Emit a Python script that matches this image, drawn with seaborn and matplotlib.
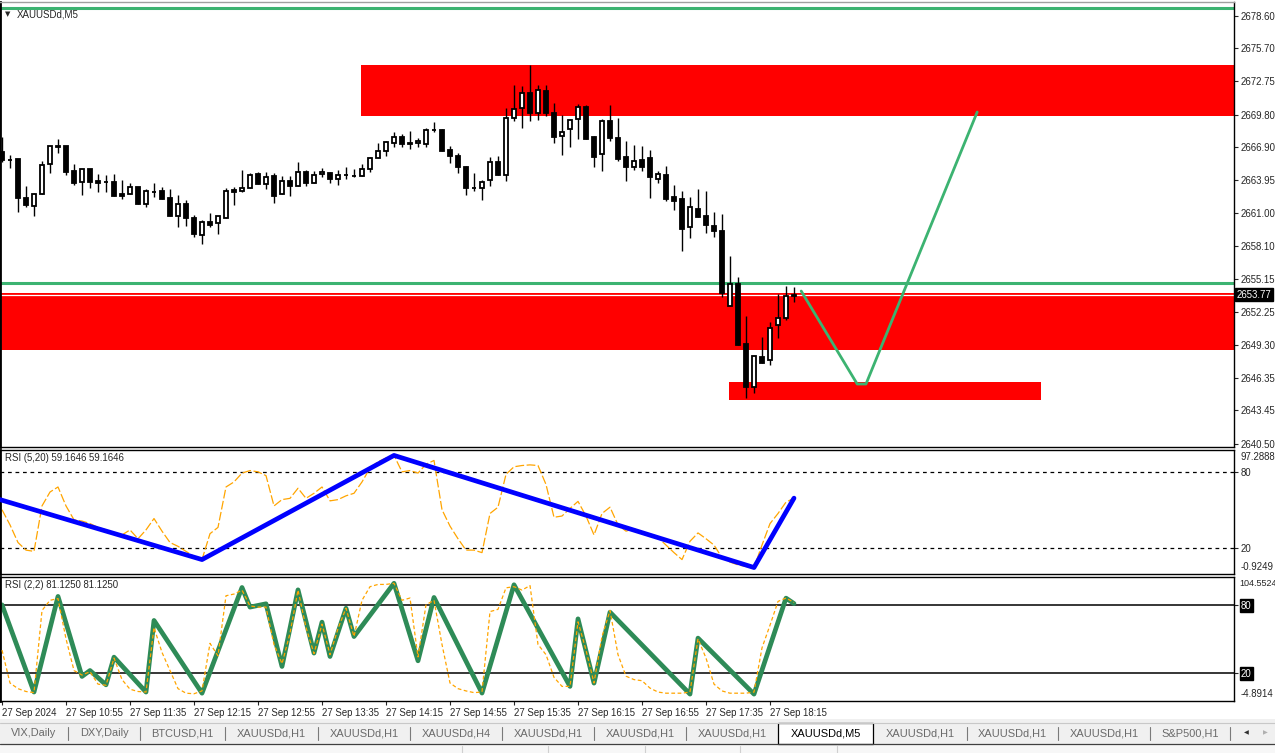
import numpy as np
import pandas as pd
import matplotlib
matplotlib.use("Agg")
import matplotlib.pyplot as plt
from matplotlib.patches import Rectangle
import seaborn as sns

sns.set_style("white")
plt.rcParams['font.family'] = ['Liberation Sans', 'DejaVu Sans']

# ---- data --------------------------------------------------------------
symbol = "XAUUSDd,M5"

opens = [2666.49, 2665.78, 2665.84, 2662.33, 2661.68, 2662.75, 2665.36, 2666.96, 2666.99, 2664.77,
         2663.76, 2664.95, 2663.88, 2663.78, 2663.76, 2662.69, 2662.72, 2663.31, 2661.86, 2662.94,
         2662.99, 2662.36, 2660.79, 2661.83, 2660.61, 2659.10, 2660.20, 2660.11, 2660.61, 2663.08,
         2663.02, 2663.22, 2664.47, 2663.64, 2664.29, 2662.72, 2663.85, 2663.46, 2664.65, 2663.67,
         2664.47, 2664.56, 2664.03, 2664.38, 2664.29, 2664.29, 2664.92, 2665.90, 2666.52, 2667.23,
         2667.77, 2667.23, 2667.23, 2667.15, 2668.39, 2668.39, 2666.61, 2666.08, 2665.10, 2663.29,
         2663.23, 2663.94, 2665.54, 2664.38, 2669.46, 2670.35, 2671.69, 2669.91, 2671.86, 2669.91,
         2667.85, 2668.48, 2669.37, 2670.44, 2667.77, 2666.25, 2669.19, 2667.68, 2665.99, 2665.10,
         2665.72, 2665.90, 2664.03, 2664.41, 2662.43, 2662.25, 2659.75, 2661.36, 2660.73, 2659.87,
         2659.40, 2652.78, 2654.68, 2649.37, 2645.57, 2648.18, 2647.91, 2651.03, 2651.65, 2653.64]
highs = [2667.76, 2666.19, 2665.84, 2663.43, 2662.84, 2665.66, 2666.99, 2667.59, 2666.99, 2665.39,
         2664.92, 2664.95, 2664.47, 2664.41, 2664.47, 2663.97, 2663.73, 2663.31, 2663.17, 2663.67,
         2663.37, 2663.17, 2662.63, 2662.18, 2660.85, 2660.40, 2661.00, 2660.76, 2663.22, 2663.31,
         2664.86, 2664.56, 2664.65, 2664.65, 2664.56, 2664.35, 2664.35, 2665.54, 2664.86, 2664.77,
         2665.04, 2664.65, 2664.86, 2665.10, 2664.92, 2665.36, 2665.99, 2667.23, 2667.44, 2668.24,
         2668.03, 2668.33, 2667.68, 2668.57, 2669.14, 2668.48, 2666.97, 2666.34, 2665.19, 2664.56,
         2663.94, 2665.99, 2666.08, 2670.35, 2672.40, 2672.31, 2674.21, 2672.40, 2672.40, 2670.80,
         2669.73, 2669.37, 2670.71, 2670.62, 2667.86, 2669.37, 2670.62, 2669.46, 2667.41, 2667.06,
         2666.97, 2666.64, 2664.80, 2665.20, 2663.52, 2662.99, 2662.43, 2663.17, 2662.99, 2661.12,
         2660.94, 2657.20, 2655.33, 2651.86, 2648.27, 2649.96, 2651.30, 2653.79, 2654.50, 2654.41]
lows = [2665.60, 2665.00, 2661.15, 2661.53, 2660.79, 2662.75, 2664.62, 2666.40, 2664.41, 2663.52,
        2662.63, 2663.22, 2662.93, 2662.93, 2662.57, 2662.24, 2662.72, 2661.86, 2661.59, 2662.42,
        2662.24, 2660.79, 2659.81, 2659.90, 2658.92, 2658.24, 2659.81, 2659.16, 2660.55, 2661.74,
        2662.93, 2663.22, 2663.58, 2663.19, 2661.95, 2662.72, 2662.57, 2663.46, 2663.47, 2663.67,
        2664.21, 2663.73, 2663.55, 2664.03, 2664.21, 2664.29, 2664.71, 2665.90, 2666.14, 2666.94,
        2666.88, 2666.70, 2666.88, 2666.88, 2668.21, 2666.52, 2665.45, 2664.56, 2662.60, 2662.96,
        2662.16, 2663.40, 2664.38, 2663.85, 2669.19, 2668.57, 2669.19, 2669.28, 2669.64, 2667.23,
        2666.22, 2666.88, 2667.59, 2667.59, 2665.16, 2664.74, 2667.41, 2665.63, 2663.85, 2664.83,
        2664.74, 2662.34, 2663.73, 2662.13, 2661.30, 2657.68, 2658.83, 2660.65, 2659.22, 2658.92,
        2653.58, 2652.78, 2649.28, 2644.59, 2644.97, 2647.64, 2647.53, 2649.87, 2651.47, 2653.08]
closes = [2665.75, 2665.72, 2662.33, 2661.74, 2662.69, 2665.27, 2666.99, 2666.93, 2664.71, 2663.73,
          2664.92, 2663.82, 2663.67, 2663.76, 2662.57, 2662.57, 2663.31, 2661.86, 2662.96, 2662.92,
          2662.28, 2660.79, 2661.80, 2660.61, 2659.16, 2660.20, 2659.96, 2660.76, 2662.99, 2662.93,
          2663.22, 2664.38, 2663.64, 2664.20, 2662.57, 2663.85, 2663.46, 2664.65, 2663.73, 2664.38,
          2664.65, 2664.03, 2664.38, 2664.40, 2664.30, 2664.92, 2665.90, 2666.52, 2667.32, 2667.77,
          2667.15, 2667.15, 2667.41, 2668.39, 2668.41, 2666.52, 2666.08, 2665.10, 2663.23, 2663.26,
          2663.76, 2665.54, 2664.38, 2669.46, 2670.26, 2671.69, 2669.91, 2671.95, 2669.91, 2667.77,
          2668.21, 2669.28, 2670.44, 2667.59, 2665.99, 2669.19, 2667.68, 2665.87, 2665.10, 2665.63,
          2665.10, 2664.27, 2664.50, 2662.28, 2662.13, 2659.64, 2661.54, 2660.65, 2659.93, 2659.46,
          2653.88, 2654.68, 2649.28, 2645.57, 2648.27, 2647.70, 2650.76, 2651.65, 2653.61, 2653.77]

price_ticks = [2678.60, 2675.70, 2672.75, 2669.80, 2666.90, 2663.95, 2661.00,
               2658.10, 2655.15, 2652.25, 2649.30, 2646.35, 2643.45, 2640.50]
last_price = 2653.77

# supply / demand rectangles: start bar, end bar, low, high
zone_start = [44.9, -1.0, 90.9]
zone_end = [160.0, 160.0, 129.9]
zone_low = [2669.67, 2648.83, 2644.37]
zone_high = [2674.21, 2653.89, 2645.99]

green_levels = [2679.33, 2654.80]
path_x = [99.9, 106.9, 108.0, 121.9]
path_y = [2654.08, 2645.80, 2645.80, 2670.02]

rsi_slow = [50, 38, 24, 18, 17, 53, 64, 68, 53, 42, 41, 39, 36, 34, 31, 30, 34, 27, 34, 43,
            33, 24, 21, 17, 13, 10.5, 31, 36, 68, 72, 79, 81, 80, 77, 53, 58, 59, 67, 59, 63,
            68, 57, 58, 61, 63, 72, 83, 88, 91, 93, 80, 81, 79, 86, 89, 50, 37, 27, 18, 18,
            16, 47, 52, 78, 84, 85, 85.5, 85, 70, 44, 45, 51, 56.6, 45, 30, 47, 52, 38, 33, 35,
            31, 29, 28, 22, 16, 10.5, 25, 31.6, 27, 22, 12, 8.5, 6.3, 5, 4.2, 22, 39, 47, 56, 59.1646]
slow_piv_x = [-1, 25, 49, 94, 99]
slow_piv_y = [59.4, 10.5, 93.0, 4.2, 59.1646]
slow_range = (-0.9249, 97.2888)

rsi_fast = [40, 11, 6, 3.5, 2.5, 75, 84, 85.5, 50, 22, 18, 21, 10, 9, 33, 14, 5.5, 3.5, 3, 60,
            38, 22, 6, 2, 1.5, 4, 46, 35, 88, 89.5, 93, 79, 78, 78, 45, 28, 55, 93, 60, 37,
            63, 36, 59, 77, 52, 84, 96, 98, 98, 99, 84, 86, 34, 80, 84, 45, 11, 6, 4, 2.5,
            3, 74, 76, 95, 96, 93, 97, 45, 36, 16, 8, 8, 65, 40, 11, 52, 75, 36, 17, 14,
            13, 6.5, 3, 2, 2, 2, 3, 50, 33, 10, 4, 2, 2, 2, 3, 42, 62, 83, 86, 82]
fast_piv_x = [0, 4, 7, 10, 11, 13, 14, 18, 19, 25, 30, 31, 33, 35, 37, 39, 40, 41, 43, 44,
              49, 52, 54, 60, 64, 71, 72, 74, 76, 86, 87, 94, 98, 99]
fast_piv_y = [80, 3, 87.4, 16.8, 22, 9.4, 33.8, 3, 66.2, 2, 95.3, 78, 80.9, 25.6, 93.2, 37.4,
              64.7, 34.4, 77, 52, 99, 30.6, 86.5, 2.1, 97.7, 8, 67.6, 10.9, 73.5, 1.2, 50.6,
              1.2, 85.9, 81.125]
fast_range = (-4.8914, 104.5524)

time_ticks = [0, 8, 16, 24, 32, 40, 48, 56, 64, 72, 80, 88, 96]
time_labels = ["27 Sep 2024", "27 Sep 10:55", "27 Sep 11:35", "27 Sep 12:15", "27 Sep 12:55",
               "27 Sep 13:35", "27 Sep 14:15", "27 Sep 14:55", "27 Sep 15:35", "27 Sep 16:15",
               "27 Sep 16:55", "27 Sep 17:35", "27 Sep 18:15"]

tabs = ["VIX,Daily", "DXY,Daily", "BTCUSD,H1", "XAUUSDd,H1", "XAUUSDd,H1", "XAUUSDd,H4",
        "XAUUSDd,H1", "XAUUSDd,H1", "XAUUSDd,H1", "XAUUSDd,M5", "XAUUSDd,H1", "XAUUSDd,H1",
        "XAUUSDd,H1", "S&P500,H1"]
active_tab = 9

df = pd.DataFrame({"open": opens, "high": highs, "low": lows, "close": closes})
df["bar"] = np.arange(len(df))

# ---- layout (pixels) ----------------------------------------------------
W, H = 1275, 753
XMIN, XMAX = -0.25, 154
FS = 6.9


def frac(l, t, r, b):
    return [l / W, 1 - b / H, (r - l) / W, (b - t) / H]


fig = plt.figure(figsize=(W / 100, H / 100), dpi=100)
ax1 = fig.add_axes(frac(0, 2, 1234, 447))
ax2 = fig.add_axes(frac(0, 450, 1234, 574))
ax3 = fig.add_axes(frac(0, 577, 1234, 701))

for ax in (ax1, ax2, ax3):
    ax.set_xlim(XMIN, XMAX)
    ax.set_facecolor("white")
    for s in ax.spines.values():
        s.set_color("black")
        s.set_linewidth(1.0)
    ax.spines["left"].set_linewidth(2.0)
    ax.yaxis.tick_right()
    ax.tick_params(axis="y", length=3, width=0.8, pad=2, labelsize=FS, direction="out")
    ax.tick_params(axis="x", bottom=False, labelbottom=False)
ax1.spines["top"].set_color("#a0a0a0")

# ---- main price panel ---------------------------------------------------
ax1.set_ylim(2640.19, 2679.82)
for x0, x1, lo, hi in zip(zone_start, zone_end, zone_low, zone_high):
    ax1.fill_between([x0, x1], lo, hi, color="#ff0000", lw=0, zorder=1)
ax1.axhline(last_price - 0.06, color="white", lw=0.9, zorder=1.5)
for lv in green_levels:
    ax1.axhline(lv, color="#3cb371", lw=2.2, zorder=2)

up = df[df.close >= df.open]
dn = df[df.close < df.open]
ax1.vlines(df.bar, df.low, df.high, color="black", lw=1.0, zorder=3)
ax1.bar(up.bar, (up.close - up.open).clip(lower=0.02), bottom=up.open, width=0.62,
        color="white", edgecolor="black", linewidth=1.3, zorder=4)
ax1.bar(dn.bar, dn.open - dn.close, bottom=dn.close, width=0.62,
        color="black", edgecolor="black", linewidth=1.3, zorder=4)

sns.lineplot(x=path_x, y=path_y, ax=ax1, color="#3cb371", lw=2.0, sort=False, zorder=5)
ax1.set_xlim(XMIN, XMAX)

ax1.set_yticks(price_ticks)
ax1.set_yticklabels([f"{p:.2f}" for p in price_ticks])
ax1.text(1.002, last_price, f"{last_price:.2f}", transform=ax1.get_yaxis_transform(),
         color="white", fontsize=FS, va="center", ha="left", zorder=10, clip_on=False,
         bbox=dict(boxstyle="square,pad=0.15", fc="black", ec="black"))
ax1.text(0.004, 0.972, "\u25bc", transform=ax1.transAxes, fontsize=5,
         family="DejaVu Sans", va="center", ha="left")
ax1.text(0.0135, 0.972, symbol, transform=ax1.transAxes, fontsize=7, va="center", ha="left")

# ---- RSI (5,20) ---------------------------------------------------------
for lv in (80, 20):
    ax2.axhline(lv, color="black", lw=0.9, ls=(0, (3, 3)), zorder=1)
sns.lineplot(x=df.bar, y=rsi_slow, ax=ax2, color="#ffa500", lw=0.9,
             linestyle=(0, (7, 2)), zorder=2)
sns.lineplot(x=slow_piv_x, y=slow_piv_y, ax=ax2, color="#0000ff", lw=3.4, zorder=3)
ax2.set_ylim(*slow_range)
ax2.set_xlim(XMIN, XMAX)
ax2.set_yticks([80, 20])
ax2.set_yticklabels(["80", "20"])
ax2.text(1.005, 0.985, f"{slow_range[1]:.4f}", transform=ax2.transAxes, fontsize=FS, va="top")
ax2.text(1.005, 0.02, f"{slow_range[0]:.4f}", transform=ax2.transAxes, fontsize=FS, va="bottom")
ax2.text(0.004, 0.935, f"RSI (5,20) {rsi_slow[-1]:.4f} {rsi_slow[-1]:.4f}",
         transform=ax2.transAxes, fontsize=FS, va="center")

# ---- RSI (2,2) ----------------------------------------------------------
for lv in (80, 20):
    ax3.axhline(lv, color="black", lw=1.1, zorder=1)
sns.lineplot(x=fast_piv_x, y=fast_piv_y, ax=ax3, color="#2e8b57", lw=3.4, zorder=2)
sns.lineplot(x=df.bar, y=rsi_fast, ax=ax3, color="#ffa500", lw=0.9,
             linestyle=(0, (3, 2)), zorder=3)
ax3.set_ylim(*fast_range)
ax3.set_xlim(XMIN, XMAX)
ax3.set_yticks([80, 20])
ax3.set_yticklabels(["80", "20"])
for lbl in ax3.get_yticklabels():
    lbl.set_color("white")
    lbl.set_bbox(dict(boxstyle="square,pad=0.15", fc="black", ec="black"))
ax3.text(1.004, 0.985, f"{fast_range[1]:.4f}", transform=ax3.transAxes, fontsize=6.5, va="top")
ax3.text(1.005, 0.02, f"{fast_range[0]:.4f}", transform=ax3.transAxes, fontsize=FS, va="bottom")
ax3.text(0.004, 0.935, f"RSI (2,2) {fast_piv_y[-1]:.4f} {fast_piv_y[-1]:.4f}",
         transform=ax3.transAxes, fontsize=FS, va="center")
ax3.set_xticks(time_ticks)
ax3.set_xticklabels(time_labels, ha="left")
ax3.tick_params(axis="x", bottom=True, labelbottom=True, length=3, width=0.8,
                pad=2, labelsize=FS, direction="out")
for a in (ax1, ax2, ax3):
    a.set_xlabel("")
    a.set_ylabel("")

# ---- terminal tab bar ---------------------------------------------------
ov = fig.add_axes([0, 0, 1, 1], zorder=-1)
ov.set_xlim(0, W)
ov.set_ylim(H, 0)
ov.axis("off")
ov.add_patch(Rectangle((0, 719), W, 34, color="#f0f0f0", lw=0))
ov.plot([0, W], [723, 723], color="#c8c8c8", lw=0.8)
ov.plot([0, W], [743.5, 743.5], color="#404040", lw=0.9)
ov.add_patch(Rectangle((0, 745), W, 8, color="#f7f7f7", lw=0))
for sx in [462, 548, 645, 740, 837]:
    ov.plot([sx, sx], [746, 753], color="#d0d0d0", lw=0.8)

tab_edges = [0, 68, 140, 225, 318, 410, 502, 594, 686, 778, 873, 967, 1058, 1150, 1230]
for k, name in enumerate(tabs):
    cx = (tab_edges[k] + tab_edges[k + 1]) / 2
    if k == active_tab:
        ov.add_patch(Rectangle((778, 723), 95, 20.5, fc="white", ec="black", lw=0.9))
        ov.text(cx, 733.5, name, fontsize=7.9, color="black", ha="center", va="center")
    else:
        ov.text(cx, 733.5, name, fontsize=7.9, color="#6a6a6a", ha="center", va="center")
for k, sx in enumerate(tab_edges[1:]):
    if k + 1 in (active_tab, active_tab + 1):
        continue
    ov.plot([sx, sx], [727, 740], color="#7a7a7a", lw=0.8)
ov.text(1246, 733, "\u25c0", fontsize=4.5, family="DejaVu Sans", color="#303030",
        ha="center", va="center")
ov.text(1265, 733, "\u25b6", fontsize=4.5, family="DejaVu Sans", color="#b0b0b0",
        ha="center", va="center")

fig.savefig("out.png", dpi=100)
